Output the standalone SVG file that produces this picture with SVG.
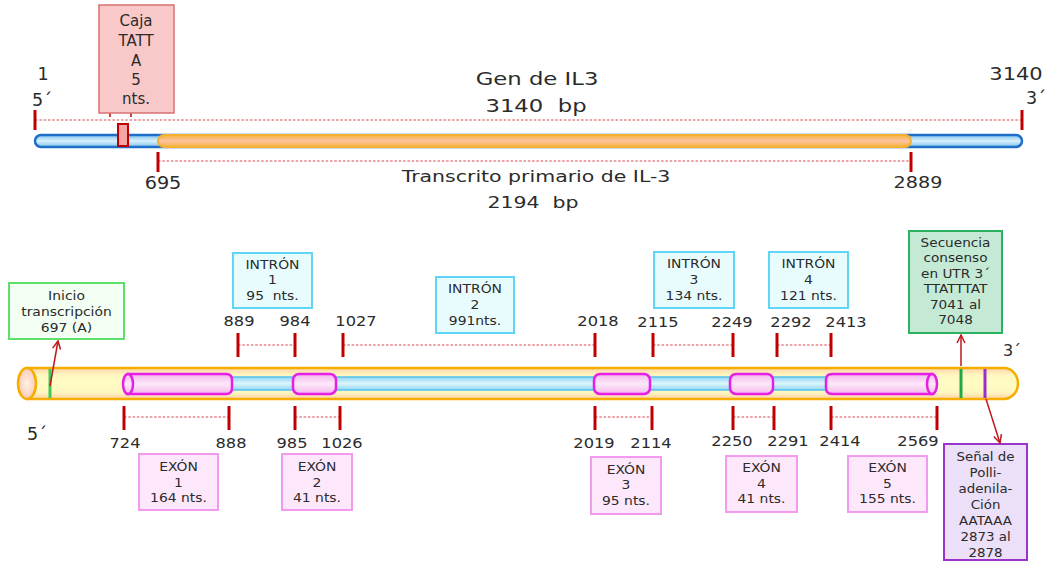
<svg xmlns="http://www.w3.org/2000/svg" width="1050" height="562" viewBox="0 0 1050 562">
<defs>
<style>
text{font-family:"DejaVu Sans","Liberation Sans",sans-serif;fill:#2b2b2b;text-anchor:middle}
.big{font-size:17.5px}
.num{font-size:14.5px}
.bx{font-size:13px}
.tick{stroke:#c00000;stroke-width:3}
.dot{stroke:#d9474f;stroke-width:1.2;stroke-dasharray:2.5 1.8;fill:none}
.ibox{fill:#e8fcfe;stroke:#5fd6f7;stroke-width:2}
.ebox{fill:#fde8fb;stroke:#f39af0;stroke-width:2}
.exon{fill:url(#gEx);stroke:#e61ee6;stroke-width:2.5}
.conn{stroke:#c0171d;stroke-width:1.5;fill:none}
</style>
<linearGradient id="gBlue" x1="0" y1="0" x2="0" y2="1">
<stop offset="0" stop-color="#7fc3ec"/><stop offset="0.5" stop-color="#d8f0fc"/><stop offset="1" stop-color="#7fc3ec"/>
</linearGradient>
<linearGradient id="gOr" x1="0" y1="0" x2="0" y2="1">
<stop offset="0" stop-color="#f7b23b"/><stop offset="0.5" stop-color="#fbc4a0"/><stop offset="1" stop-color="#f7b23b"/>
</linearGradient>
<linearGradient id="gTube" x1="0" y1="0" x2="0" y2="1">
<stop offset="0" stop-color="#fcd2a8"/><stop offset="0.22" stop-color="#fff6c0"/><stop offset="0.5" stop-color="#fffcc4"/><stop offset="0.78" stop-color="#fff6c0"/><stop offset="1" stop-color="#fcd2a8"/>
</linearGradient>
<radialGradient id="gCap" cx="0.5" cy="0.5" r="0.6">
<stop offset="0" stop-color="#fff3e6"/><stop offset="1" stop-color="#f9c2b0"/>
</radialGradient>
<linearGradient id="gIn" x1="0" y1="0" x2="0" y2="1">
<stop offset="0" stop-color="#92d6f2"/><stop offset="0.5" stop-color="#dcf5fd"/><stop offset="1" stop-color="#92d6f2"/>
</linearGradient>
<linearGradient id="gEx" x1="0" y1="0" x2="0" y2="1">
<stop offset="0" stop-color="#f4b6ec"/><stop offset="0.5" stop-color="#fde8fa"/><stop offset="1" stop-color="#f4b6ec"/>
</linearGradient>
<marker id="arr" viewBox="0 0 10 10" refX="9" refY="5" markerWidth="10" markerHeight="10" markerUnits="userSpaceOnUse" orient="auto">
<path d="M1,1 L9,5 L1,9" fill="none" stroke="#c0171d" stroke-width="1.5"/>
</marker>
</defs>
<rect width="1050" height="562" fill="#ffffff"/>

<!-- TOP: gene -->
<g id="gene-labels">
<text class="big" transform="translate(43 0)" y="80">1</text>
<text class="big" transform="translate(42 0)" y="106">5´</text>
<text class="big" transform="translate(1016 0) scale(1.2 1)" y="80">3140</text>
<text class="big" transform="translate(1036 0)" y="104">3´</text>
<text class="big" transform="translate(537 0) scale(1.3 1)" y="85">Gen de IL3</text>
<text class="big" transform="translate(536 0) scale(1.3 1)" y="112">3140&#160; bp</text>
<text style="font-size:16px" transform="translate(536 0) scale(1.28 1)" y="182">Transcrito primario de IL-3</text>
<text style="font-size:16px" transform="translate(533 0) scale(1.28 1)" y="208">2194&#160; bp</text>
<text class="big" transform="translate(163 0) scale(1.1 1)" y="189">695</text>
<text style="font-size:16px" transform="translate(918 0) scale(1.2 1)" y="188">2889</text>
</g>
<g id="gene-scale">
<line class="dot" x1="35" y1="120" x2="1022" y2="120"/>
<line class="dot" x1="158" y1="161" x2="911" y2="161"/>
<line class="tick" x1="35" y1="110" x2="35" y2="130"/>
<line class="tick" x1="1022" y1="110" x2="1022" y2="130"/>
<line class="tick" x1="158" y1="152" x2="158" y2="172"/>
<line class="tick" x1="911" y1="152" x2="911" y2="172"/>
</g>
<g id="gene-bar">
<rect x="35" y="135" width="987" height="12" rx="6" fill="url(#gBlue)" stroke="#1e6fc8" stroke-width="2.5"/>
<rect x="158" y="135" width="753" height="12" rx="6" fill="url(#gOr)" stroke="#f6b030" stroke-width="2"/>
<rect x="118" y="124" width="10" height="22" fill="#f5a3a3" stroke="#c00000" stroke-width="2"/>
</g>
<g id="caja-tata">
<line x1="110" y1="113" x2="110" y2="117" stroke="#c44" stroke-width="2"/>
<line x1="131" y1="113" x2="131" y2="117" stroke="#c44" stroke-width="2"/>
<rect x="99" y="5" width="75" height="108" fill="#f9c9c9" stroke="#d87070" stroke-width="1.5"/>
<text style="font-size:15px" transform="translate(136 0)"><tspan x="0" y="26">Caja</tspan><tspan x="0" y="46">TATT</tspan><tspan x="0" y="66">A</tspan><tspan x="0" y="85">5</tspan><tspan x="0" y="104">nts.</tspan></text>
</g>

<!-- BOTTOM: transcript -->
<g id="transcript">
<path d="M27,368 H1004 A14,15.5 0 0 1 1004,399 H27 Z" fill="url(#gTube)" stroke="#f7ac00" stroke-width="2.5"/>
<ellipse cx="27" cy="383.5" rx="9" ry="15.5" fill="url(#gCap)" stroke="#f7ac00" stroke-width="2.5"/>
<rect x="228" y="377" width="602" height="13" fill="url(#gIn)" stroke="#55c2ee" stroke-width="1.5"/>
<line x1="50" y1="369" x2="50" y2="398" stroke="#3ccc55" stroke-width="3"/>
<line x1="961" y1="369" x2="961" y2="398" stroke="#1faa48" stroke-width="3"/>
<line x1="985" y1="369" x2="985" y2="398" stroke="#9a2ecc" stroke-width="3"/>
</g>
<g id="exon1-shape">
<path class="exon" d="M128,374 H226 Q232,374 232,380 V388 Q232,394 226,394 H128 Z"/>
<ellipse class="exon" cx="128" cy="384" rx="5" ry="10"/>
</g>
<g id="exon2-shape"><rect class="exon" x="293" y="374" width="43" height="20" rx="6"/></g>
<g id="exon3-shape"><rect class="exon" x="594" y="374" width="56" height="20" rx="6"/></g>
<g id="exon4-shape"><rect class="exon" x="730" y="374" width="43" height="20" rx="6"/></g>
<g id="exon5-shape">
<path class="exon" d="M832,374 H932 V394 H832 Q826,394 826,388 V380 Q826,374 832,374 Z"/>
<ellipse class="exon" cx="932" cy="384" rx="5" ry="10"/>
</g>

<g id="position-marks">
<line class="dot" x1="238" y1="345" x2="295" y2="345"/>
<line class="dot" x1="343" y1="345" x2="595" y2="345"/>
<line class="dot" x1="653" y1="345" x2="733" y2="345"/>
<line class="dot" x1="777" y1="345" x2="831" y2="345"/>
<line class="tick" x1="238" y1="333" x2="238" y2="357"/>
<line class="tick" x1="295" y1="333" x2="295" y2="357"/>
<line class="tick" x1="343" y1="333" x2="343" y2="357"/>
<line class="tick" x1="595" y1="333" x2="595" y2="357"/>
<line class="tick" x1="653" y1="333" x2="653" y2="357"/>
<line class="tick" x1="733" y1="333" x2="733" y2="357"/>
<line class="tick" x1="777" y1="333" x2="777" y2="357"/>
<line class="tick" x1="831" y1="333" x2="831" y2="357"/>
<line class="dot" x1="124" y1="417" x2="229" y2="417"/>
<line class="dot" x1="295" y1="417" x2="340" y2="417"/>
<line class="dot" x1="595" y1="417" x2="652" y2="417"/>
<line class="dot" x1="733" y1="417" x2="774" y2="417"/>
<line class="dot" x1="831" y1="417" x2="937" y2="417"/>
<line class="tick" x1="124" y1="406" x2="124" y2="430"/>
<line class="tick" x1="229" y1="406" x2="229" y2="430"/>
<line class="tick" x1="295" y1="406" x2="295" y2="430"/>
<line class="tick" x1="340" y1="406" x2="340" y2="430"/>
<line class="tick" x1="595" y1="406" x2="595" y2="430"/>
<line class="tick" x1="652" y1="406" x2="652" y2="430"/>
<line class="tick" x1="733" y1="406" x2="733" y2="430"/>
<line class="tick" x1="774" y1="406" x2="774" y2="430"/>
<line class="tick" x1="831" y1="406" x2="831" y2="430"/>
<line class="tick" x1="937" y1="406" x2="937" y2="430"/>
</g>
<g id="position-labels">
<text class="num" transform="translate(239 0) scale(1.12 1)" y="326">889</text>
<text class="num" transform="translate(295 0) scale(1.12 1)" y="326">984</text>
<text class="num" transform="translate(356 0) scale(1.12 1)" y="326">1027</text>
<text class="num" transform="translate(598 0) scale(1.12 1)" y="326">2018</text>
<text class="num" transform="translate(658 0) scale(1.12 1)" y="327">2115</text>
<text class="num" transform="translate(732 0) scale(1.12 1)" y="327">2249</text>
<text class="num" transform="translate(791 0) scale(1.12 1)" y="327">2292</text>
<text class="num" transform="translate(846 0) scale(1.12 1)" y="327">2413</text>
<text class="num" transform="translate(125 0) scale(1.12 1)" y="448">724</text>
<text class="num" transform="translate(231 0) scale(1.12 1)" y="448">888</text>
<text class="num" transform="translate(292 0) scale(1.12 1)" y="448">985</text>
<text class="num" transform="translate(342 0) scale(1.12 1)" y="448">1026</text>
<text class="num" transform="translate(594 0) scale(1.12 1)" y="448">2019</text>
<text class="num" transform="translate(651 0) scale(1.12 1)" y="448">2114</text>
<text class="num" transform="translate(732 0) scale(1.12 1)" y="446">2250</text>
<text class="num" transform="translate(788 0) scale(1.12 1)" y="446">2291</text>
<text class="num" transform="translate(840 0) scale(1.12 1)" y="446">2414</text>
<text class="num" transform="translate(918 0) scale(1.12 1)" y="446">2569</text>
<text class="big" transform="translate(37 0)" y="440">5´</text>
<text style="font-size:16px" transform="translate(1012 0)" y="356">3´</text>
</g>

<g id="inicio">
<rect x="9" y="283" width="115" height="56" fill="#f2fff2" stroke="#5ee06a" stroke-width="2"/>
<text class="bx" transform="translate(66.5 0) scale(1.07 1)"><tspan x="0" y="300">Inicio</tspan><tspan x="0" y="316">transcripción</tspan><tspan x="0" y="332">697 (A)</tspan></text>
</g>
<g id="intron1">
<rect class="ibox" x="233" y="253" width="79" height="55"/>
<text class="bx" transform="translate(272.5 0) scale(1.07 1)"><tspan x="0" y="269">INTRÓN</tspan><tspan x="0" y="284">1</tspan><tspan x="0" y="300">95&#160; nts.</tspan></text>
</g>
<g id="intron2">
<rect class="ibox" x="436" y="277" width="78" height="56"/>
<text class="bx" transform="translate(475 0) scale(1.07 1)"><tspan x="0" y="293">INTRÓN</tspan><tspan x="0" y="309">2</tspan><tspan x="0" y="325">991nts.</tspan></text>
</g>
<g id="intron3">
<rect class="ibox" x="654" y="252" width="80" height="56"/>
<text class="bx" transform="translate(694 0) scale(1.07 1)"><tspan x="0" y="268">INTRÓN</tspan><tspan x="0" y="284">3</tspan><tspan x="0" y="300">134 nts.</tspan></text>
</g>
<g id="intron4">
<rect class="ibox" x="769" y="252" width="79" height="56"/>
<text class="bx" transform="translate(808.5 0) scale(1.07 1)"><tspan x="0" y="268">INTRÓN</tspan><tspan x="0" y="284">4</tspan><tspan x="0" y="300">121 nts.</tspan></text>
</g>
<g id="secuencia">
<rect x="909" y="231" width="93" height="102" fill="#c4ead6" stroke="#2bb160" stroke-width="2"/>
<text class="bx" transform="translate(955.5 0) scale(1.05 1)"><tspan x="0" y="247">Secuencia</tspan><tspan x="0" y="262">consenso</tspan><tspan x="0" y="278">en UTR 3´</tspan><tspan x="0" y="293">TTATTTAT</tspan><tspan x="0" y="309">7041 al</tspan><tspan x="0" y="324">7048</tspan></text>
</g>
<g id="exon1">
<rect class="ebox" x="139" y="454" width="79" height="56"/>
<text class="bx" transform="translate(178.5 0) scale(1.07 1)"><tspan x="0" y="471">EXÓN</tspan><tspan x="0" y="487">1</tspan><tspan x="0" y="502">164 nts.</tspan></text>
</g>
<g id="exon2">
<rect class="ebox" x="282" y="454" width="70" height="56"/>
<text class="bx" transform="translate(317 0) scale(1.07 1)"><tspan x="0" y="471">EXÓN</tspan><tspan x="0" y="487">2</tspan><tspan x="0" y="502">41 nts.</tspan></text>
</g>
<g id="exon3">
<rect class="ebox" x="591" y="457" width="70" height="57"/>
<text class="bx" transform="translate(626 0) scale(1.07 1)"><tspan x="0" y="474">EXÓN</tspan><tspan x="0" y="489">3</tspan><tspan x="0" y="505">95 nts.</tspan></text>
</g>
<g id="exon4">
<rect class="ebox" x="726" y="456" width="71" height="56"/>
<text class="bx" transform="translate(761.5 0) scale(1.07 1)"><tspan x="0" y="472">EXÓN</tspan><tspan x="0" y="488">4</tspan><tspan x="0" y="503">41 nts.</tspan></text>
</g>
<g id="exon5">
<rect class="ebox" x="848" y="456" width="79" height="56"/>
<text class="bx" transform="translate(887.5 0) scale(1.07 1)"><tspan x="0" y="472">EXÓN</tspan><tspan x="0" y="488">5</tspan><tspan x="0" y="503">155 nts.</tspan></text>
</g>
<g id="senal">
<rect x="944" y="444" width="83" height="116" fill="#ecdff8" stroke="#9b35c9" stroke-width="2"/>
<text class="bx" transform="translate(985.5 0) scale(1.03 1)"><tspan x="0" y="461">Señal de</tspan><tspan x="0" y="477">Polli-</tspan><tspan x="0" y="493">adenila-</tspan><tspan x="0" y="509">Ción</tspan><tspan x="0" y="525">AATAAA</tspan><tspan x="0" y="541">2873 al</tspan><tspan x="0" y="557">2878</tspan></text>
</g>

<g id="connectors">
<line class="conn" x1="50" y1="386" x2="58" y2="341" marker-end="url(#arr)"/>
<line class="conn" x1="961" y1="366" x2="961" y2="335" marker-end="url(#arr)"/>
<line class="conn" x1="986" y1="399" x2="1000" y2="443" marker-end="url(#arr)"/>
</g>
</svg>
